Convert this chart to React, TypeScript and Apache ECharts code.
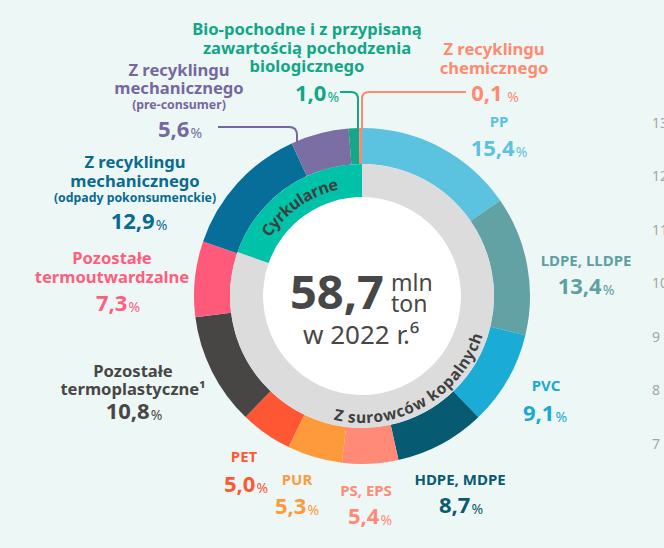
import React, { useEffect, useRef } from 'react';
import * as echarts from 'echarts';

// ---------- data ----------
const categories = [
  'PP',
  'LDPE, LLDPE',
  'PVC',
  'HDPE, MDPE',
  'PS, EPS',
  'PUR',
  'PET',
  'Pozostałe\ntermoplastyczne¹',
  'Pozostałe\ntermoutwardzalne',
  'Z recyklingu\nmechanicznego',
  'Z recyklingu\nmechanicznego',
  'Bio-pochodne i z przypisaną\nzawartością pochodzenia\nbiologicznego',
  'Z recyklingu\nchemicznego',
];
const subtitles = ['', '', '', '', '', '', '', '', '', '(odpady pokonsumenckie)', '(pre-consumer)', '', ''];
const shares = [15.4, 13.4, 9.1, 8.7, 5.4, 5.3, 5.0, 10.8, 7.3, 12.9, 5.6, 1.0, 0.1];
const groupNames = ['Z surowców kopalnych', 'Cyrkularne'];
const groupShares = [80.4, 19.6];
const totalValue = '58,7';
const totalUnit = ['mln', 'ton'];
const totalYear = 'w 2022 r.⁶';
const sideTicks = ['13', '12', '11', '10', '9', '8', '7'];

// ---------- styles / layout ----------
const FONT = '"Noto Sans", "DejaVu Sans", sans-serif';
const CX = 362;
const CY = 296;
const sliceColors = ['#5BC2E0', '#62A1A4', '#1AACD5', '#065A72', '#FF8A78', '#FF9A3C', '#FF5733', '#474645', '#FF5A7A', '#076E9A', '#7A6EA2', '#12A888', '#FF8670'];
const labelColors = ['#5BC2E0', '#5E9FA3', '#19A9D3', '#0A5A70', '#FF8A78', '#FF9A3C', '#FF5733', '#474747', '#FF5F7E', '#0A6A8F', '#7568A0', '#12A586', '#FF8A70'];
const groupColors = ['#DCDCDC', '#00C2A8'];
const labelLayout = [
  { x: 499, ny: [121], vx: 499, vy: 147 },
  { x: 586, ny: [260], vx: 586, vy: 285 },
  { x: 546, ny: [385], vx: 545, vy: 412 },
  { x: 460, ny: [479], vx: 461, vy: 504 },
  { x: 366, ny: [490], vx: 370, vy: 515 },
  { x: 297, ny: [479], vx: 297, vy: 505 },
  { x: 244, ny: [456], vx: 246, vy: 483 },
  { x: 133, ny: [370, 388], vx: 134, vy: 410 },
  { x: 112, ny: [257, 276], vx: 118, vy: 302 },
  { x: 135, ny: [161, 180], sy: 197, vx: 139, vy: 220 },
  { x: 179, ny: [69, 87], sy: 104, vx: 180, vy: 128 },
  { x: 307, ny: [28, 47, 65], vx: 317, vy: 92 },
  { x: 494, ny: [48, 67], vx: 495, vy: 92, gap: true },
];

function arcText(text: string, centerDeg: number, r: number, cw: boolean, fontSize: number, color: string, spacing: number) {
  const ctx = document.createElement('canvas').getContext('2d') as CanvasRenderingContext2D;
  ctx.font = `bold ${fontSize}px ${FONT}`;
  const chars = Array.from(text);
  const widths = chars.map((ch) => ctx.measureText(ch).width + spacing);
  const totalW = widths.reduce((a, b) => a + b, 0) - spacing;
  const totalAng = totalW / r;
  const c = (centerDeg * Math.PI) / 180;
  let cum = 0;
  return chars.map((ch, i) => {
    const mid = cum + (widths[i] - spacing) / 2;
    cum += widths[i];
    const off = mid / r - totalAng / 2;
    const th = cw ? c + off : c - off;
    const x = CX + r * Math.sin(th);
    const y = CY - r * Math.cos(th);
    const rot = cw ? -th : Math.PI - th;
    return {
      type: 'text',
      x,
      y,
      rotation: rot,
      z: 100,
      silent: true,
      style: { text: ch, x: 0, y: 0, align: 'center', verticalAlign: 'middle', fontSize, fontWeight: 'bold', fontFamily: FONT, fill: color },
    };
  });
}

function elbow(x1: number, y1: number, xc: number, y2: number, color: string, rad: number) {
  const dir = xc > x1 ? 1 : -1;
  const xs = xc - dir * rad;
  const common = { z: 50, silent: true };
  const st = { stroke: color, lineWidth: 2, fill: 'none' };
  return [
    { type: 'line', ...common, shape: { x1, y1, x2: xs, y2: y1 }, style: st },
    { type: 'bezierCurve', ...common, shape: { x1: xs, y1, x2: xc, y2: y1 + rad, cpx1: xc, cpy1: y1 }, style: st },
    { type: 'line', ...common, shape: { x1: xc, y1: y1 + rad, x2: xc, y2 }, style: st },
  ];
}

function fmt(v: number) {
  return v.toFixed(1).replace('.', ',');
}

export default function App() {
  const ref = useRef<HTMLDivElement>(null);
  useEffect(() => {
    if (!ref.current) return;
    const chart = echarts.init(ref.current, undefined, { renderer: 'svg' });
    const graphic: any[] = [];

    graphic.push({ type: 'circle', z: 1, silent: true, shape: { cx: CX, cy: CY, r: 99 }, style: { fill: '#FFFFFF' } });

    // labels
    categories.forEach((name, i) => {
      const L: any = labelLayout[i];
      const color = labelColors[i];
      const lines = name.split('\n');
      const multi = lines.length > 1;
      lines.forEach((line, k) => {
        graphic.push({
          type: 'text', z: 60, silent: true,
          style: { text: line, x: L.x, y: L.ny[k], align: 'center', verticalAlign: 'middle', fontSize: multi ? 16.6 : 15, fontWeight: 'bold', fontFamily: FONT, fill: color },
        });
      });
      if (subtitles[i]) {
        graphic.push({
          type: 'text', z: 60, silent: true,
          style: { text: subtitles[i], x: L.x, y: L.sy, align: 'center', verticalAlign: 'middle', fontSize: 12.3, fontWeight: 'bold', fontFamily: FONT, fill: color },
        });
      }
      graphic.push({
        type: 'text', z: 60, silent: true,
        style: {
          text: `{v|${fmt(shares[i])}}{p|${L.gap ? ' ' : ''}%}`,
          x: L.vx, y: L.vy, align: 'center', verticalAlign: 'middle',
          rich: {
            v: { fontSize: 22, fontWeight: 'bold', fontFamily: FONT, fill: color, lineHeight: 26 },
            p: { fontSize: 14, fontWeight: 'normal', fontFamily: FONT, fill: color, lineHeight: 26, verticalAlign: 'bottom', padding: [0, 0, 2, 1] },
          },
        },
      });
    });

    // leader lines
    graphic.push(...elbow(218, 127, 297, 142, labelColors[10], 8));
    graphic.push(...elbow(340, 92, 358, 130, '#13A888', 7));
    graphic.push(...elbow(466, 92, 362, 130, '#FF8A72', 7));

    // center texts
    const dark = '#474747';
    graphic.push({ type: 'text', z: 60, silent: true, style: { text: totalValue, x: 384, y: 291, align: 'right', verticalAlign: 'middle', fontSize: 47, fontWeight: 'bold', fontFamily: FONT, fill: dark } });
    graphic.push({ type: 'text', z: 60, silent: true, style: { text: totalUnit[0], x: 391, y: 282, align: 'left', verticalAlign: 'middle', fontSize: 23, fontFamily: FONT, fill: dark } });
    graphic.push({ type: 'text', z: 60, silent: true, style: { text: totalUnit[1], x: 391, y: 303, align: 'left', verticalAlign: 'middle', fontSize: 23, fontFamily: FONT, fill: dark } });
    graphic.push({ type: 'text', z: 60, silent: true, style: { text: totalYear, x: 361, y: 334, align: 'center', verticalAlign: 'middle', fontSize: 26, fontFamily: FONT, fill: dark } });

    // curved group labels
    graphic.push(...arcText(groupNames[1], 325, 115, true, 16, '#3F3F3F', 0.3));
    graphic.push(...arcText(groupNames[0], 150.5, 121, false, 15.5, '#3F3F3F', 0.2));

    // side ticks (cut off at right edge, as in the reference)
    sideTicks.forEach((t, i) => {
      graphic.push({ type: 'text', z: 60, silent: true, style: { text: t, x: 652, y: 122 + i * 53.5, align: 'left', verticalAlign: 'middle', fontSize: 14, fontFamily: FONT, fill: '#A5A5A5' } });
    });

    chart.setOption({
      animation: false,
      backgroundColor: '#EDF8F6',
      series: [
        {
          type: 'pie',
          center: [CX, CY],
          radius: [132, 168],
          startAngle: 90,
          clockwise: true,
          minAngle: 1,
          silent: true,
          label: { show: false },
          labelLine: { show: false },
          itemStyle: { borderWidth: 0 },
          data: categories.map((n, i) => ({ name: n.replace(/\n/g, ' ') + (subtitles[i] ? ' ' + subtitles[i] : ''), value: shares[i], itemStyle: { color: sliceColors[i] } })),
        },
        {
          type: 'pie',
          center: [CX, CY],
          radius: [99, 132],
          startAngle: 90,
          clockwise: true,
          silent: true,
          label: { show: false },
          labelLine: { show: false },
          data: groupNames.map((n, i) => ({ name: n, value: groupShares[i], itemStyle: { color: groupColors[i] } })),
        },
      ],
      graphic,
    });
    return () => chart.dispose();
  }, []);
  return <div ref={ref} style={{ position: 'fixed', left: 0, top: 0, width: 664, height: 548 }} />;
}
